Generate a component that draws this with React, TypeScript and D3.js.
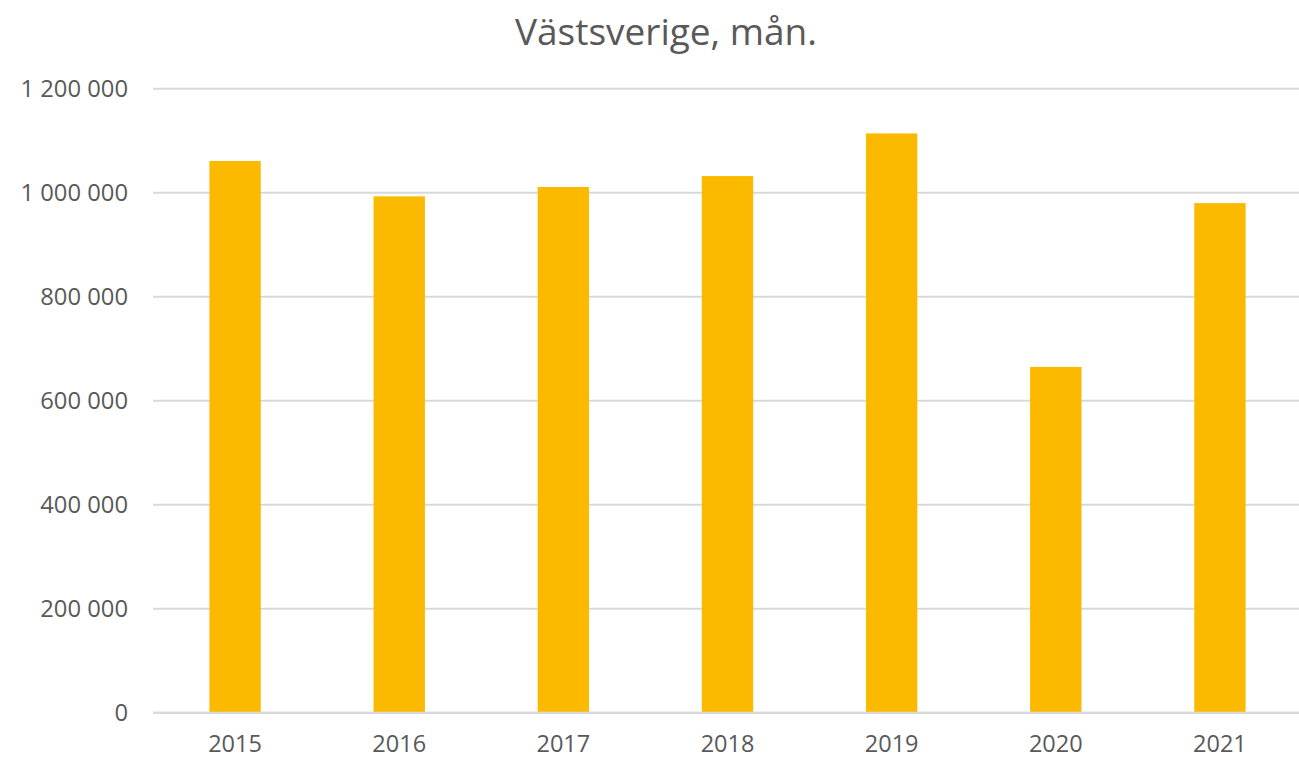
import React from "react";
import * as d3 from "d3";

const years = ["2015", "2016", "2017", "2018", "2019", "2020", "2021"];
const values = [1061000, 993000, 1011000, 1032000, 1114000, 665000, 980000];
const yTicks = [0, 200000, 400000, 600000, 800000, 1000000, 1200000];
const title = "Västsverige, mån.";

const W = 1299;
const H = 758;
const margin = { left: 153, right: -3, top: 88.7, bottom: 45.3 };

export default function App() {
  const x = d3
    .scaleBand<string>()
    .domain(years)
    .range([margin.left, W - margin.right])
    .paddingInner(0.687)
    .paddingOuter(0.3435);
  const y = d3
    .scaleLinear()
    .domain([0, 1200000])
    .range([H - margin.bottom, margin.top]);
  const fmt = (v: number) =>
    d3.format(",")(v).replace(/,/g, " ");
  const font = "'Open Sans', 'Noto Sans', sans-serif";
  return (
    <svg
      width={W}
      height={H}
      style={{ position: "absolute", left: 0, top: 0, background: "#fff" }}
      fontFamily={font}
    >
      <text x={666} y={45} textAnchor="middle" fontSize={37} fill="#595959">
        {title}
      </text>
      {yTicks.map((t) => (
        <g key={t}>
          <line
            x1={margin.left}
            x2={W}
            y1={y(t)}
            y2={y(t)}
            stroke="#d9d9d9"
            strokeWidth={2}
          />
          <text
            x={128}
            y={y(t)}
            dy="0.35em"
            textAnchor="end"
            fontSize={23.8}
            fill="#595959"
          >
            {fmt(t)}
          </text>
        </g>
      ))}
      {years.map((yr, i) => (
        <rect
          key={yr}
          x={x(yr)}
          width={x.bandwidth()}
          y={y(values[i])}
          height={y(0) - y(values[i])}
          fill="#FBBA00"
        />
      ))}
      <line
        x1={margin.left}
        x2={W}
        y1={y(0)}
        y2={y(0)}
        stroke="#d9d9d9"
        strokeWidth={2}
      />
      {years.map((yr) => (
        <text
          key={yr}
          x={(x(yr) as number) + x.bandwidth() / 2}
          y={751.5}
          textAnchor="middle"
          fontSize={23.5}
          fill="#595959"
        >
          {yr}
        </text>
      ))}
    </svg>
  );
}
